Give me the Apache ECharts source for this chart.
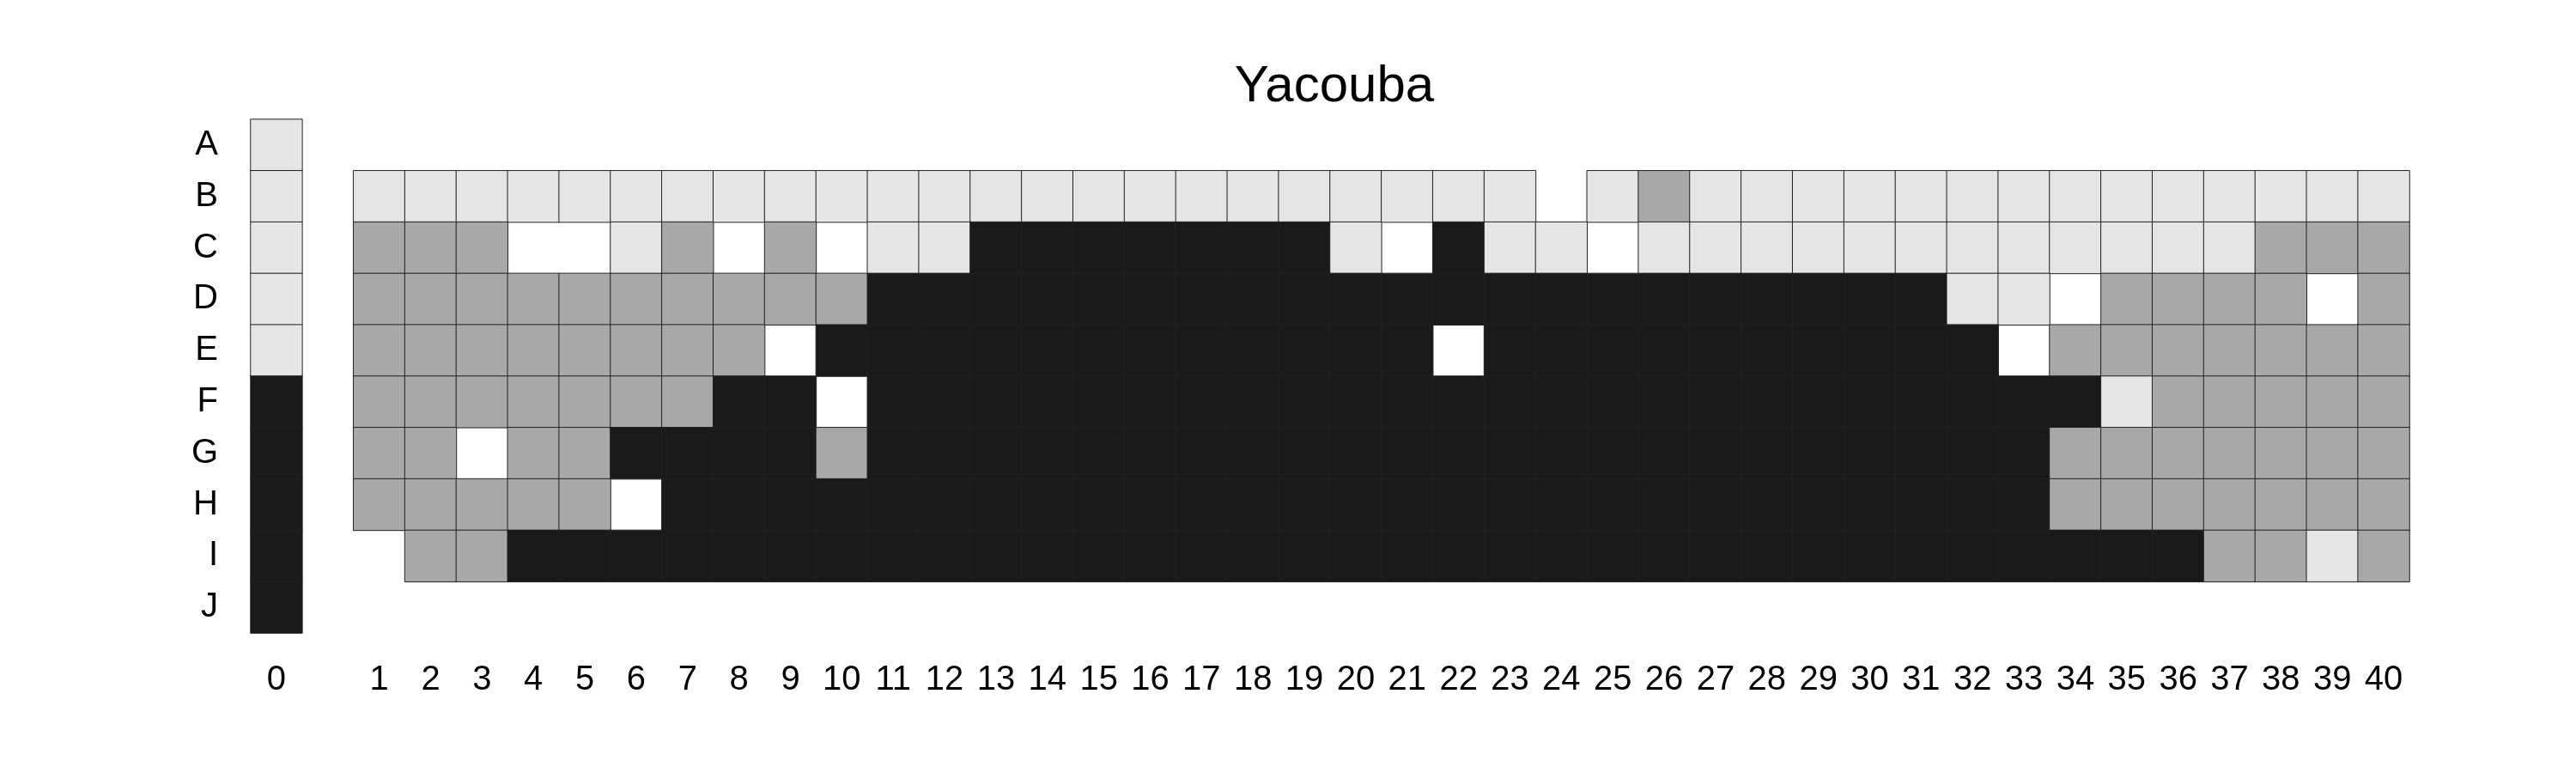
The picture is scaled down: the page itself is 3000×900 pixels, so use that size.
<!DOCTYPE html>
<html>
<head>
<meta charset="utf-8">
<script src="https://cdn.jsdelivr.net/npm/echarts@6/dist/echarts.min.js"></script>
<style>
html,body{margin:0;padding:0;background:#fff;}
#main{width:3000px;height:900px;}
</style>
</head>
<body>
<div id="main"></div>
<script>
// codes: W = white, L = light grey, M = mid grey, K = black, _ = no cell
const W = 0, L = 1, M = 2, K = 3, _ = null;

const title = 'Yacouba';
const rowLabels = ['A','B','C','D','E','F','G','H','I','J'];
const colLabels = ['0','','1','2','3','4','5','6','7','8','9','10','11','12','13','14','15','16','17','18','19','20','21','22','23','24','25','26','27','28','29','30','31','32','33','34','35','36','37','38','39','40'];
const levelColors = ['#ffffff', '#e5e5e5', '#a8a8a8', '#1a1a1a'];

// each row: column 0, then columns 1..40
const rowA = [L, _,_,_,_,_,_,_,_,_,_, _,_,_,_,_,_,_,_,_,_, _,_,_,_,_,_,_,_,_,_, _,_,_,_,_,_,_,_,_,_];
const rowB = [L, L,L,L,L,L,L,L,L,L,L, L,L,L,L,L,L,L,L,L,L, L,L,L,_,L,M,L,L,L,L, L,L,L,L,L,L,L,L,L,L];
const rowC = [L, M,M,M,W,W,L,M,W,M,W, L,L,K,K,K,K,K,K,K,L, W,K,L,L,W,L,L,L,L,L, L,L,L,L,L,L,L,M,M,M];
const rowD = [L, M,M,M,M,M,M,M,M,M,M, K,K,K,K,K,K,K,K,K,K, K,K,K,K,K,K,K,K,K,K, K,L,L,W,M,M,M,M,W,M];
const rowE = [L, M,M,M,M,M,M,M,M,W,K, K,K,K,K,K,K,K,K,K,K, K,W,K,K,K,K,K,K,K,K, K,K,W,M,M,M,M,M,M,M];
const rowF = [K, M,M,M,M,M,M,M,K,K,W, K,K,K,K,K,K,K,K,K,K, K,K,K,K,K,K,K,K,K,K, K,K,K,K,L,M,M,M,M,M];
const rowG = [K, M,M,W,M,M,K,K,K,K,M, K,K,K,K,K,K,K,K,K,K, K,K,K,K,K,K,K,K,K,K, K,K,K,M,M,M,M,M,M,M];
const rowH = [K, M,M,M,M,M,W,K,K,K,K, K,K,K,K,K,K,K,K,K,K, K,K,K,K,K,K,K,K,K,K, K,K,K,M,M,M,M,M,M,M];
const rowI = [K, _,M,M,K,K,K,K,K,K,K, K,K,K,K,K,K,K,K,K,K, K,K,K,K,K,K,K,K,K,K, K,K,K,K,K,K,M,M,L,M];
const rowJ = [K, _,_,_,_,_,_,_,_,_,_, _,_,_,_,_,_,_,_,_,_, _,_,_,_,_,_,_,_,_,_, _,_,_,_,_,_,_,_,_,_];

const rows = [rowA,rowB,rowC,rowD,rowE,rowF,rowG,rowH,rowI,rowJ];

// white cells first so that neighbouring borders are drawn over them
const data = [];
[true, false].forEach(function (whitePass) {
  rows.forEach(function (row, r) {
    row.forEach(function (v, c) {
      if (v === null) return;
      if ((v === W) !== whitePass) return;
      const xi = c === 0 ? 0 : c + 1;
      const item = { value: [xi, r, v] };
      if (v === W) item.itemStyle = { borderWidth: 0 };
      data.push(item);
    });
  });
});

const chart = echarts.init(document.getElementById('main'), null, { renderer: 'canvas' });
chart.setOption({
  backgroundColor: '#ffffff',
  animation: false,
  textStyle: { fontFamily: '"Liberation Sans", Arial, Helvetica, sans-serif' },
  title: {
    text: title,
    left: 1549,
    textAlign: 'center',
    top: 66,
    textStyle: { fontSize: 60, fontWeight: 'normal', color: '#000', fontFamily: '"Liberation Sans", Arial, sans-serif' }
  },
  grid: { left: 292, top: 139, width: 2514, height: 598, outerBoundsMode: 'none', containLabel: false },
  xAxis: {
    type: 'category',
    data: colLabels,
    axisLine: { show: false },
    axisTick: { show: false },
    splitLine: { show: false },
    axisLabel: { interval: 0, fontSize: 40, color: '#000', margin: 35, fontFamily: '"Liberation Sans", Arial, sans-serif' }
  },
  yAxis: {
    type: 'category',
    data: rowLabels,
    inverse: true,
    axisLine: { show: false },
    axisTick: { show: false },
    splitLine: { show: false },
    axisLabel: { interval: 0, fontSize: 40, color: '#000', margin: 38, fontFamily: '"Liberation Sans", Arial, sans-serif' }
  },
  visualMap: {
    show: false,
    type: 'piecewise',
    dimension: 2,
    pieces: [
      { value: W, color: levelColors[0] },
      { value: L, color: levelColors[1] },
      { value: M, color: levelColors[2] },
      { value: K, color: levelColors[3] }
    ]
  },
  series: [{
    type: 'heatmap',
    data: data,
    itemStyle: { borderColor: '#222222', borderWidth: 1 },
    emphasis: { disabled: true },
    label: { show: false }
  }]
});
</script>
</body>
</html>
